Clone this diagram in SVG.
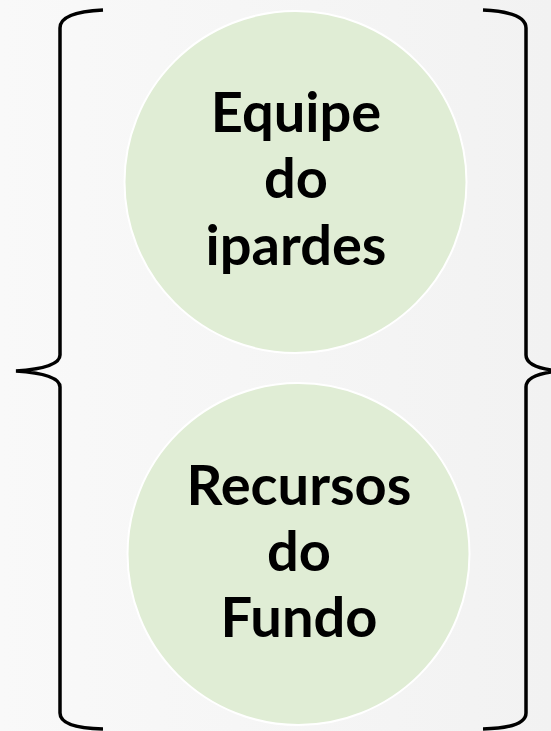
<svg xmlns="http://www.w3.org/2000/svg" width="551" height="731" viewBox="0 0 551 731">
<style>
.node circle{fill:#e0edd5;stroke:#ffffff;stroke-width:2}
.node text{font-family:Lato,"Liberation Sans",sans-serif;font-weight:bold;font-size:56px;fill:#000;text-anchor:middle}
.brace{fill:none;stroke:#000;stroke-width:3.5;stroke-linecap:butt}
</style>
<defs>
<linearGradient id="bg" x1="0" y1="0" x2="1" y2="0">
<stop offset="0" stop-color="#f9f9f9"/>
<stop offset="1" stop-color="#f2f2f2"/>
</linearGradient>
</defs>
<rect width="551" height="731" fill="url(#bg)"/>
<g id="node-equipe" class="node">
<circle cx="295.5" cy="182" r="171"/>
<text x="296" y="132">Equipe</text>
<text x="296" y="198">do</text>
<text x="296" y="265">ipardes</text>
</g>
<g id="node-recursos" class="node">
<circle cx="298.5" cy="554" r="171"/>
<text x="299" y="505">Recursos</text>
<text x="299" y="571">do</text>
<text x="299" y="637">Fundo</text>
</g>
<g id="connectors">
<path class="brace" d="M103,10 Q60,12 60,28 L60,355 Q60,368 16,371 Q60,374 60,387 L60,713 Q60,728 103,729"/>
<path class="brace" d="M483,10 Q526,12 526,28 L526,355 Q526,368 560,371 Q526,374 526,387 L526,713 Q526,728 483,729"/>
</g>
</svg>
